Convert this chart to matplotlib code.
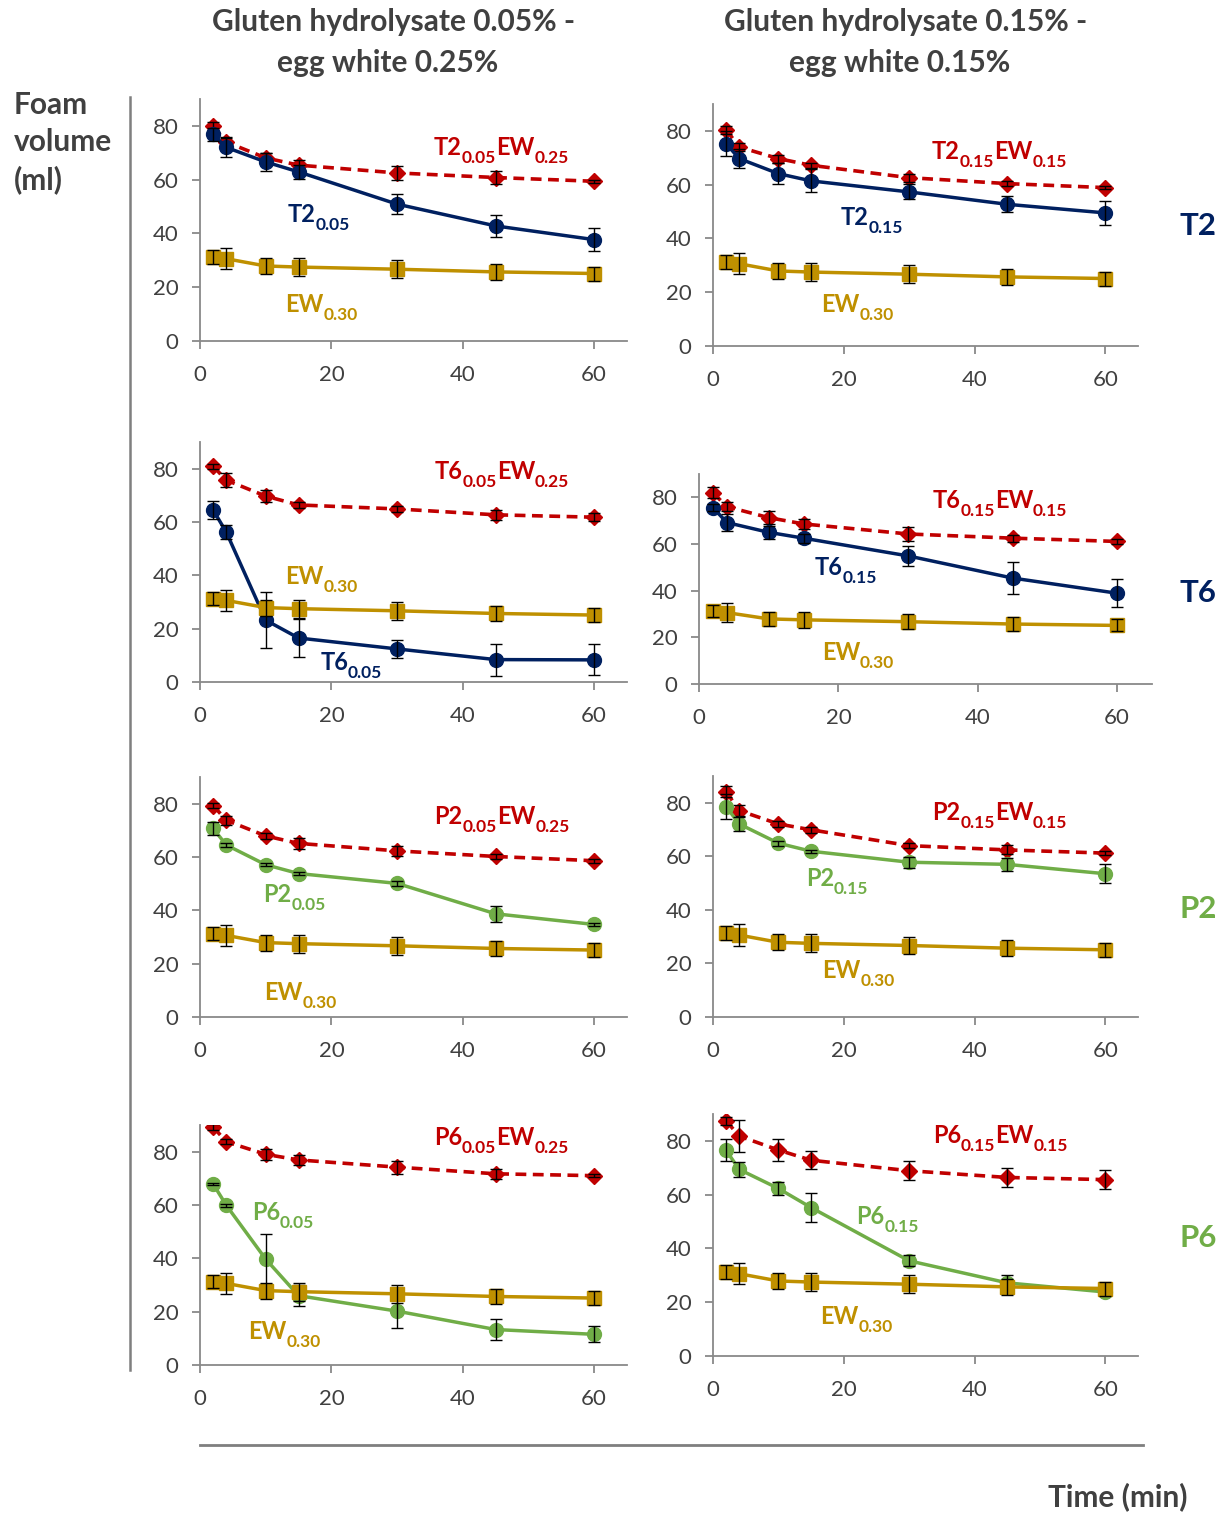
import matplotlib
matplotlib.use('Agg')
import matplotlib.pyplot as plt
from matplotlib.lines import Line2D
from matplotlib.transforms import offset_copy

plt.rcParams['font.family'] = ['Lato', 'DejaVu Sans']

# time points (min)
time = [2, 4, 10, 15, 30, 45, 60]

# egg white 0.30% reference (same in every panel)
ew = [31.3, 30.6, 27.9, 27.5, 26.7, 25.7, 25.1]
ew_err = [2.5, 4.0, 3.0, 3.4, 3.3, 2.9, 2.6]

# hydrolysates alone
t2_005 = [76.8, 72.0, 66.6, 62.9, 50.9, 42.8, 37.7]
t2_005_err = [2.5, 3.5, 3.5, 2.6, 3.7, 4.0, 4.2]
t2_015 = [75.3, 69.7, 64.1, 61.4, 57.3, 52.7, 49.5]
t2_015_err = [4.5, 3.5, 3.8, 4.3, 2.8, 2.9, 4.6]
t6_005 = [64.5, 56.2, 23.2, 16.5, 12.4, 8.4, 8.3]
t6_005_err = [3.2, 2.5, 10.5, 7.3, 3.4, 6.0, 5.8]
t6_015 = [75.6, 69.2, 65.0, 62.5, 54.9, 45.4, 38.9]
t6_015_err = [1.5, 3.5, 2.7, 2.0, 4.3, 7.0, 6.0]
p2_005 = [70.7, 64.5, 57.1, 53.8, 50.1, 38.7, 34.7]
p2_005_err = [2.5, 0.8, 0.5, 0.5, 1.0, 3.0, 0.5]
p2_015 = [78.6, 72.1, 64.9, 61.9, 57.8, 57.0, 53.5]
p2_015_err = [4.5, 2.6, 1.0, 0.5, 2.1, 2.4, 3.6]
p6_005 = [67.9, 59.9, 39.7, 26.0, 20.2, 13.3, 11.5]
p6_005_err = [0.5, 0.5, 9.3, 4.0, 6.5, 3.9, 3.0]
p6_015 = [76.5, 69.4, 62.3, 55.2, 35.4, 27.2, 23.8]
p6_015_err = [4.1, 2.7, 2.5, 5.3, 2.0, 3.0, 1.0]

# hydrolysate + egg white mixtures
t2_mix_005 = [79.9, 74.0, 68.1, 65.4, 62.5, 60.8, 59.4]
t2_mix_005_err = [1.5, 1.8, 2.0, 2.0, 2.5, 2.5, 0.5]
t2_mix_015 = [80.5, 74.0, 69.7, 67.2, 62.6, 60.4, 58.9]
t2_mix_015_err = [1.5, 1.5, 1.5, 1.0, 1.5, 0.8, 0.5]
t6_mix_005 = [80.9, 75.7, 69.7, 66.4, 64.9, 62.7, 61.8]
t6_mix_005_err = [1.0, 2.5, 2.3, 1.0, 1.0, 1.8, 1.5]
t6_mix_015 = [82.0, 76.0, 71.3, 68.6, 64.3, 62.5, 61.1]
t6_mix_015_err = [2.4, 2.0, 2.7, 2.3, 3.1, 1.5, 1.0]
p2_mix_005 = [79.3, 73.8, 67.9, 65.1, 62.3, 60.2, 58.6]
p2_mix_005_err = [1.0, 1.7, 1.2, 2.0, 1.9, 1.0, 0.8]
p2_mix_015 = [84.2, 77.1, 72.1, 69.9, 64.0, 62.4, 61.2]
p2_mix_015_err = [2.2, 1.9, 1.0, 1.0, 1.0, 1.7, 0.8]
p6_mix_005 = [89.3, 83.7, 79.0, 76.9, 74.2, 71.7, 71.0]
p6_mix_005_err = [1.0, 1.0, 2.0, 1.9, 2.4, 1.9, 0.5]
p6_mix_015 = [87.5, 81.8, 76.6, 72.8, 68.9, 66.4, 65.6]
p6_mix_015_err = [1.5, 5.8, 4.2, 3.3, 3.5, 3.7, 3.5]

RED = '#C00000'
NAVY = '#002060'
GOLD = '#BF9000'
GREEN = '#70AD47'
GRAY = '#898989'
TXT = '#404040'

W, H = 1225, 1515


def fx(px):
    return px / W


def fy(py):
    return 1 - py / H


# (box in pixels, hydrolysate, err, colour, name, dose, mixture, err, egg white dose)
panels = [
    ((200, 99, 627, 341), t2_005, t2_005_err, NAVY, 'T2', '0.05',
     t2_mix_005, t2_mix_005_err, '0.25'),
    ((713, 104, 1138, 346), t2_015, t2_015_err, NAVY, 'T2', '0.15',
     t2_mix_015, t2_mix_015_err, '0.15'),
    ((200, 442, 627, 682), t6_005, t6_005_err, NAVY, 'T6', '0.05',
     t6_mix_005, t6_mix_005_err, '0.25'),
    ((699, 474, 1152, 684), t6_015, t6_015_err, NAVY, 'T6', '0.15',
     t6_mix_015, t6_mix_015_err, '0.15'),
    ((200, 777, 627, 1017), p2_005, p2_005_err, GREEN, 'P2', '0.05',
     p2_mix_005, p2_mix_005_err, '0.25'),
    ((713, 776, 1138, 1017), p2_015, p2_015_err, GREEN, 'P2', '0.15',
     p2_mix_015, p2_mix_015_err, '0.15'),
    ((200, 1125, 627, 1365), p6_005, p6_005_err, GREEN, 'P6', '0.05',
     p6_mix_005, p6_mix_005_err, '0.25'),
    ((713, 1114, 1138, 1356), p6_015, p6_015_err, GREEN, 'P6', '0.15',
     p6_mix_015, p6_mix_015_err, '0.15'),
]

# label anchors (data coords, baseline): mixture, hydrolysate, egg white
label_pos = [
    ((35.6, 69.2), (13.4, 44.2), (13.0, 10.8)),
    ((33.5, 69.7), (19.5, 44.9), (16.5, 12.7)),
    ((35.7, 76.3), (18.3, 4.4), (13.0, 36.6)),
    ((33.5, 75.3), (16.6, 46.8), (17.6, 10.4)),
    ((35.7, 72.2), (9.6, 43.0), (9.8, 6.4)),
    ((33.5, 73.4), (14.2, 49.0), (16.7, 14.7)),
    ((35.6, 82.5), (7.9, 54.3), (7.4, 9.9)),
    ((33.6, 79.3), (21.9, 49.0), (16.4, 11.8)),
]

fig = plt.figure(figsize=(W / 100, H / 100), dpi=100)
renderer = fig.canvas.get_renderer()


def sub_label(ax, x, y, parts, color, size=17, subsize=12.5, drop=8):
    # parts: list of (text, is_subscript)
    off = 0
    for s, sub in parts:
        tr = offset_copy(ax.transData, fig=fig, x=off, y=-drop if sub else 0, units='dots')
        t = ax.text(x, y, s, transform=tr, fontsize=subsize if sub else size,
                    fontweight='bold', color=color, ha='left', va='baseline', zorder=6)
        off += t.get_window_extent(renderer).width


for (box, hyd, hyd_err, col, name, dose, mix, mix_err, ewdose), pos in zip(panels, label_pos):
    x0, y0, x1, y1 = box
    ax = fig.add_axes([fx(x0), fy(y1), (x1 - x0) / W, (y1 - y0) / H])

    # mixture (red dashed diamonds)
    ax.plot(time, mix, color=RED, lw=2.6, dashes=(3, 1.8), marker='D', ms=8,
            mec=RED, zorder=2)
    ax.errorbar(time, mix, yerr=mix_err, fmt='none', ecolor='black',
                elinewidth=1, capsize=4, capthick=1, zorder=2.5)
    # hydrolysate alone
    ax.plot(time, hyd, color=col, lw=2.5, marker='o', ms=10, mec=col, zorder=3)
    ax.errorbar(time, hyd, yerr=hyd_err, fmt='none', ecolor='black',
                elinewidth=1, capsize=4, capthick=1, zorder=3.5)
    # egg white 0.30 %
    ax.plot(time, ew, color=GOLD, lw=2.5, marker='s', ms=10.5, mec=GOLD, zorder=4)
    ax.errorbar(time, ew, yerr=ew_err, fmt='none', ecolor='black',
                elinewidth=1, capsize=4, capthick=1, zorder=4.5)

    ax.set_xlim(0, 65)
    ax.set_ylim(0, 90)
    ax.set_xticks([0, 20, 40, 60])
    ax.set_yticks([0, 20, 40, 60, 80])
    ax.spines['top'].set_visible(False)
    ax.spines['right'].set_visible(False)
    for s in ['left', 'bottom']:
        ax.spines[s].set_color(GRAY)
        ax.spines[s].set_linewidth(1.3)
    ax.tick_params(direction='out', length=5.5, width=1.3, color=GRAY,
                   labelsize=16, labelcolor=TXT)
    ax.tick_params(axis='x', pad=12)
    ax.tick_params(axis='y', pad=10)
    ax.patch.set_alpha(0)

    (mx, my), (hx, hy), (ex, ey) = pos
    sub_label(ax, mx, my, [(name, False), (dose, True), ('EW', False), (ewdose, True)], RED)
    sub_label(ax, hx, hy, [(name, False), (dose, True)], col)
    sub_label(ax, ex, ey, [('EW', False), ('0.30', True)], GOLD)

# column headers
hdr = dict(fontsize=21.5, fontweight='bold', color=TXT, ha='center', va='baseline')
fig.text(fx(394), fy(31), 'Gluten hydrolysate 0.05% -', **hdr)
fig.text(fx(388), fy(72), 'egg white 0.25%', **hdr)
fig.text(fx(906), fy(31), 'Gluten hydrolysate 0.15% -', **hdr)
fig.text(fx(900), fy(72), 'egg white 0.15%', **hdr)

# y title
ytl = dict(fontsize=21.5, fontweight='bold', color=TXT, ha='left', va='baseline')
fig.text(fx(14), fy(114), 'Foam', **ytl)
fig.text(fx(14), fy(151), 'volume', **ytl)
fig.text(fx(14), fy(189), '(ml)', **ytl)

# x title
fig.text(fx(1188), fy(1506), 'Time (min)', fontsize=21.5, fontweight='bold',
         color=TXT, ha='right', va='baseline')

# row labels
row = dict(fontsize=22.5, fontweight='bold', ha='left', va='center')
fig.text(fx(1179), fy(226), 'T2', color=NAVY, **row)
fig.text(fx(1179), fy(593), 'T6', color=NAVY, **row)
fig.text(fx(1179), fy(909), 'P2', color=GREEN, **row)
fig.text(fx(1179), fy(1238), 'P6', color=GREEN, **row)

# frame lines
fig.add_artist(Line2D([fx(130), fx(130)], [fy(97), fy(1370)], color='#7F7F7F', lw=1.8))
fig.add_artist(Line2D([fx(200), fx(1143)], [fy(1445), fy(1445)], color='#7F7F7F', lw=2))

fig.savefig('out.png', dpi=100)
